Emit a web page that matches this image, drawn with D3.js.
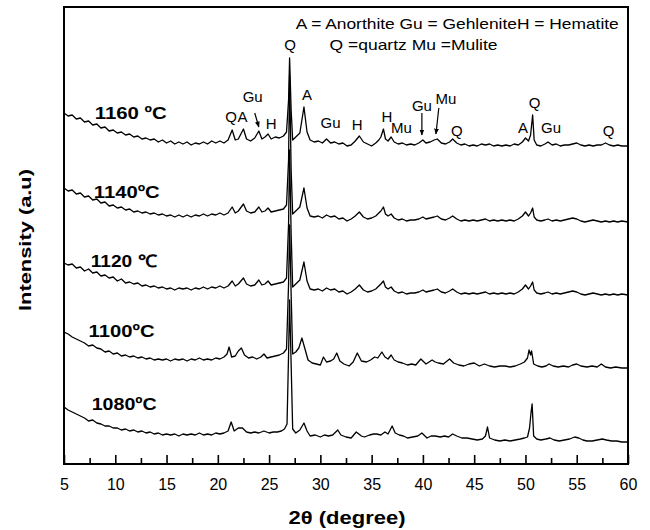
<!DOCTYPE html>
<html lang="en">
<head>
    <meta charset="UTF-8">
    <title>XRD patterns</title>
    <script src="https://d3js.org/d3.v7.min.js"></script>
    <style>
        body { margin: 0; background: #fff; }
        svg { display: block; font-family: "Liberation Sans", Arial, sans-serif; }
        .tick text { font-size: 16px; fill: #000; }
        .peak { font-size: 15px; fill: #000; }
        .sample { font-size: 17px; font-weight: bold; fill: #000; }
    </style>
</head>
<body>
<svg id="chart" width="650" height="530"></svg>
<script>
    // 2θ / intensity pairs (curves already offset for stacking)
    const curve1160 = [[5.0,351],[5.4,348],[5.8,349],[6.2,345],[6.6,346],[7.0,342],[7.4,343],[7.8,339],[8.2,340],[8.6,336],[9.0,337],[9.4,333],[9.8,334],[10.2,331],[10.6,332],[11.0,329],[11.4,330],[11.8,327],[12.2,328],[12.6,325],[13.0,326],[13.4,324],[13.8,325],[14.2,322],[14.6,324],[15.0,321],[15.4,323],[15.8,320],[16.2,322],[16.6,320],[17.0,322],[17.4,319],[17.8,321],[18.2,320],[18.6,322],[19.0,320],[19.4,323],[19.8,321],[20.2,323],[20.6,321],[21.0,324],[21.4,334],[21.7,324],[22.0,325],[22.5,335],[22.8,325],[23.2,323],[23.6,326],[24.0,333],[24.3,325],[24.6,327],[24.9,330],[25.2,325],[25.6,327],[26.0,326],[26.4,328],[26.7,332],[26.9,364],[27.0,406],[27.15,354],[27.3,324],[27.6,327],[28.0,331],[28.4,357],[28.7,332],[29.0,324],[29.4,322],[29.8,323],[30.2,321],[30.6,325],[31.0,321],[31.4,322],[31.8,320],[32.2,321],[32.6,318],[33.0,319],[33.4,323],[33.8,328],[34.2,322],[34.6,320],[35.0,318],[35.4,321],[35.7,324],[35.9,327],[36.15,335],[36.35,325],[36.6,323],[36.9,327],[37.2,322],[37.6,320],[38.0,321],[38.4,319],[38.8,320],[39.2,319],[39.6,321],[40.0,324],[40.3,321],[40.7,322],[41.1,324],[41.4,325],[41.8,321],[42.2,320],[42.6,322],[42.9,325],[43.3,321],[43.7,319],[44.1,320],[44.5,318],[44.9,319],[45.3,318],[45.7,320],[46.1,319],[46.5,320],[46.9,318],[47.3,319],[47.7,318],[48.1,319],[48.5,318],[48.9,320],[49.3,319],[49.7,322],[50.0,326],[50.3,323],[50.5,329],[50.7,349],[50.85,324],[51.1,319],[51.5,318],[51.9,320],[52.2,322],[52.6,319],[53.0,320],[53.4,318],[53.8,319],[54.2,319],[54.6,320],[55.0,321],[55.4,319],[55.8,318],[56.2,319],[56.6,318],[57.0,319],[57.4,319],[57.8,321],[58.2,319],[58.6,318],[59.0,319],[59.4,318],[60.0,318]];

    const curve1140 = [[5.0,276],[5.4,273],[5.8,274],[6.2,270],[6.6,271],[7.0,267],[7.4,268],[7.8,264],[8.2,265],[8.6,261],[9.0,262],[9.4,258],[9.8,259],[10.2,256],[10.6,257],[11.0,254],[11.4,255],[11.8,252],[12.2,253],[12.6,251],[13.0,252],[13.4,250],[13.8,251],[14.2,249],[14.6,250],[15.0,248],[15.4,249],[15.8,247],[16.2,249],[16.6,247],[17.0,249],[17.4,247],[17.8,249],[18.2,248],[18.6,250],[19.0,248],[19.4,250],[19.8,249],[20.2,251],[20.6,249],[21.0,251],[21.4,257],[21.7,251],[22.0,253],[22.5,260],[22.8,253],[23.2,251],[23.6,252],[24.0,257],[24.3,252],[24.6,253],[24.9,256],[25.2,252],[25.6,253],[26.0,254],[26.4,255],[26.7,259],[26.9,304],[27.0,389],[27.15,294],[27.3,250],[27.6,253],[28.0,257],[28.4,276],[28.7,256],[29.0,248],[29.4,247],[29.8,248],[30.2,246],[30.6,249],[31.0,247],[31.4,248],[31.8,245],[32.2,246],[32.6,243],[33.0,245],[33.4,248],[33.8,252],[34.2,247],[34.6,245],[35.0,246],[35.4,248],[35.7,251],[35.9,253],[36.15,257],[36.35,250],[36.6,248],[36.9,250],[37.2,246],[37.6,244],[38.0,245],[38.4,243],[38.8,244],[39.2,244],[39.6,245],[40.0,247],[40.3,245],[40.7,246],[41.1,247],[41.4,248],[41.8,245],[42.2,244],[42.6,246],[42.9,248],[43.3,245],[43.7,243],[44.1,244],[44.5,243],[44.9,244],[45.3,243],[45.7,244],[46.1,245],[46.5,243],[46.9,244],[47.3,243],[47.7,244],[48.1,243],[48.5,244],[48.9,243],[49.3,245],[49.7,248],[50.0,252],[50.3,248],[50.5,251],[50.7,256],[50.85,247],[51.1,244],[51.5,243],[51.9,244],[52.2,245],[52.6,243],[53.0,244],[53.4,243],[53.8,244],[54.2,245],[54.6,246],[55.0,245],[55.4,243],[55.8,242],[56.2,243],[56.6,244],[57.0,243],[57.4,242],[57.8,243],[58.2,242],[58.6,243],[59.0,242],[59.4,243],[60.0,242]];

    const curve1120 = [[5.0,201],[5.4,199],[5.8,200],[6.2,196],[6.6,197],[7.0,193],[7.4,195],[7.8,191],[8.2,192],[8.6,188],[9.0,189],[9.4,186],[9.8,187],[10.2,183],[10.6,185],[11.0,181],[11.4,182],[11.8,180],[12.2,181],[12.6,178],[13.0,179],[13.4,177],[13.8,178],[14.2,176],[14.6,177],[15.0,175],[15.4,176],[15.8,174],[16.2,176],[16.6,175],[17.0,176],[17.4,174],[17.8,176],[18.2,175],[18.6,177],[19.0,175],[19.4,177],[19.8,176],[20.2,178],[20.6,176],[21.0,178],[21.4,183],[21.7,178],[22.0,180],[22.5,186],[22.8,180],[23.2,178],[23.6,179],[24.0,184],[24.3,179],[24.6,180],[24.9,183],[25.2,179],[25.6,180],[26.0,181],[26.4,182],[26.7,186],[26.9,240],[27.0,314],[27.15,230],[27.3,177],[27.6,180],[28.0,184],[28.4,202],[28.7,183],[29.0,175],[29.4,174],[29.8,175],[30.2,173],[30.6,176],[31.0,174],[31.4,175],[31.8,172],[32.2,173],[32.6,170],[33.0,172],[33.4,175],[33.8,179],[34.2,174],[34.6,172],[35.0,173],[35.4,175],[35.7,178],[35.9,180],[36.15,183],[36.35,177],[36.6,175],[36.9,177],[37.2,173],[37.6,171],[38.0,172],[38.4,170],[38.8,171],[39.2,171],[39.6,172],[40.0,174],[40.3,172],[40.7,173],[41.1,174],[41.4,175],[41.8,172],[42.2,171],[42.6,173],[42.9,175],[43.3,172],[43.7,170],[44.1,171],[44.5,170],[44.9,171],[45.3,170],[45.7,171],[46.1,172],[46.5,170],[46.9,171],[47.3,170],[47.7,171],[48.1,170],[48.5,171],[48.9,170],[49.3,172],[49.7,175],[50.0,179],[50.3,175],[50.5,178],[50.7,182],[50.85,174],[51.1,171],[51.5,170],[51.9,171],[52.2,172],[52.6,170],[53.0,171],[53.4,170],[53.8,171],[54.2,172],[54.6,173],[55.0,172],[55.4,170],[55.8,169],[56.2,170],[56.6,171],[57.0,170],[57.4,169],[57.8,170],[58.2,169],[58.6,170],[59.0,169],[59.4,170],[60.0,169]];

    const curve1100 = [[5.0,132],[5.4,130],[5.8,127],[6.2,125],[6.6,123],[7.0,121],[7.4,118],[7.8,119],[8.2,116],[8.6,115],[9.0,112],[9.4,113],[9.8,110],[10.2,111],[10.6,108],[11.0,109],[11.4,107],[11.8,108],[12.2,106],[12.6,107],[13.0,105],[13.4,106],[13.8,104],[14.2,105],[14.6,104],[15.0,105],[15.4,103],[15.8,105],[16.2,104],[16.6,105],[17.0,103],[17.4,105],[17.8,104],[18.2,106],[18.6,104],[19.0,105],[19.4,104],[19.8,106],[20.2,105],[20.6,107],[20.9,110],[21.1,117],[21.35,107],[21.7,108],[22.0,113],[22.3,116],[22.6,109],[23.0,106],[23.4,107],[23.8,105],[24.2,107],[24.5,110],[24.8,106],[25.2,107],[25.6,108],[26.0,109],[26.4,111],[26.7,115],[26.9,180],[27.0,239],[27.15,170],[27.3,110],[27.6,112],[27.9,116],[28.2,126],[28.5,115],[28.8,104],[29.2,101],[29.6,100],[30.0,99],[30.3,107],[30.6,102],[31.0,103],[31.3,105],[31.6,111],[31.9,103],[32.3,100],[32.8,98],[33.2,102],[33.6,111],[34.0,103],[34.5,102],[34.9,104],[35.3,107],[35.6,106],[36.0,112],[36.3,107],[36.6,105],[36.9,109],[37.2,104],[37.6,102],[38.0,101],[38.5,99],[38.9,100],[39.3,99],[39.8,105],[40.3,100],[40.9,104],[41.2,102],[41.5,101],[42.0,100],[42.6,105],[43.0,101],[43.5,99],[44.0,98],[44.5,100],[45.0,101],[45.5,98],[46.0,100],[46.5,98],[47.0,97],[47.5,98],[48.0,98],[48.5,97],[49.0,98],[49.5,100],[49.9,102],[50.2,106],[50.35,114],[50.5,109],[50.6,113],[50.8,100],[51.2,98],[51.6,97],[52.0,98],[52.3,100],[52.7,98],[53.2,97],[53.7,98],[54.2,97],[54.6,99],[55.0,100],[55.4,98],[56.0,97],[56.5,98],[57.0,97],[57.4,100],[57.8,97],[58.3,96],[58.8,97],[59.4,96],[60.0,96]];

    const curve1080 = [[5.0,57],[5.4,54],[5.8,52],[6.2,50],[6.6,48],[7.0,46],[7.4,43],[7.8,44],[8.2,41],[8.6,40],[9.0,38],[9.4,38],[9.8,36],[10.2,36],[10.6,34],[11.0,35],[11.4,33],[11.8,34],[12.2,32],[12.6,33],[13.0,31],[13.4,32],[13.8,30],[14.2,31],[14.6,29],[15.0,30],[15.4,29],[15.8,30],[16.2,28],[16.6,30],[17.0,29],[17.4,30],[17.8,29],[18.2,31],[18.6,29],[19.0,30],[19.4,29],[19.8,31],[20.2,30],[20.6,31],[21.0,33],[21.3,42],[21.6,33],[22.0,36],[22.4,36],[22.8,32],[23.2,31],[23.6,32],[24.0,31],[24.5,33],[25.0,31],[25.4,32],[25.8,32],[26.2,33],[26.5,35],[26.75,40],[26.9,110],[27.0,164],[27.15,100],[27.3,35],[27.6,31],[28.0,34],[28.4,41],[28.7,33],[29.0,28],[29.5,29],[30.0,27],[30.4,29],[30.8,28],[31.2,29],[31.7,34],[32.0,29],[32.5,27],[33.0,26],[33.5,32],[34.0,28],[34.3,27],[34.8,29],[35.2,30],[35.5,30],[35.9,29],[36.3,32],[36.6,30],[37.0,38],[37.3,31],[37.7,29],[38.1,28],[38.5,26],[39.0,27],[39.5,28],[39.9,31],[40.4,26],[40.8,28],[41.2,28],[41.7,27],[42.1,28],[42.5,27],[42.9,30],[43.3,28],[43.8,26],[44.3,26],[44.8,25],[45.3,24],[45.8,25],[46.1,28],[46.3,37],[46.5,26],[47.0,24],[47.5,23],[48.0,24],[48.5,23],[49.0,24],[49.5,25],[49.9,26],[50.2,27],[50.4,36],[50.55,52],[50.65,60],[50.8,28],[51.1,25],[51.5,24],[52.0,25],[52.4,26],[52.8,24],[53.3,23],[53.8,24],[54.3,25],[54.8,27],[55.2,26],[55.6,24],[56.0,23],[56.5,23],[57.0,24],[57.5,25],[57.9,24],[58.4,23],[58.9,23],[59.4,22],[60.0,22]];

    const curves = [curve1160, curve1140, curve1120, curve1100, curve1080];
    const sampleNames = ["1160 \u00baC", "1140\u00baC", "1120 \u2103", "1100\u00baC", "1080\u00baC"];
    const majorTicks = [5, 10, 15, 20, 25, 30, 35, 40, 45, 50, 55, 60];
    const minorTicks = [7.5, 12.5, 17.5, 22.5, 27.5, 32.5, 37.5, 42.5, 47.5, 52.5, 57.5];
    const legendLines = ["A = Anorthite Gu = GehleniteH = Hematite", "Q =quartz Mu =Mulite"];
    const peakNames = ["Q", "A", "Gu", "H", "Q", "A", "Gu", "H", "H", "Mu", "Gu", "Mu", "Q", "A", "Q", "Gu", "Q"];
    const peakAngles = [21.3, 22.4, 23.4, 25.2, 27.05, 28.7, 31.0, 33.6, 36.5, 37.9, 39.9, 42.25, 43.3, 49.75, 50.9, 52.5, 58.1];
    const peakHeights = [342, 342, 362, 335, 414, 364, 336, 334, 342, 331, 353, 360, 328, 331, 356, 331, 328];

    const width = 650, height = 530;
    const margin = { top: 7, right: 22, bottom: 66, left: 64 };
    const plotW = width - margin.left - margin.right;
    const plotH = height - margin.top - margin.bottom;

    const svg = d3.select("#chart");
    const x = d3.scaleLinear().domain([5, 60]).range([0, plotW]);
    const y = d3.scaleLinear().domain([0, plotH]).range([plotH, 0]);

    const g = svg.append("g").attr("transform", `translate(${margin.left},${margin.top})`);

    g.append("clipPath").attr("id", "clip")
        .append("rect").attr("width", plotW).attr("height", plotH);

    const line = d3.line().x(d => x(d[0])).y(d => y(d[1]));

    g.append("g").attr("clip-path", "url(#clip)")
        .selectAll("path")
        .data(curves)
        .join("path")
        .attr("fill", "none")
        .attr("stroke", "#000")
        .attr("stroke-width", 1.3)
        .attr("stroke-linejoin", "round")
        .attr("d", line);

    // bottom axis, ticks pointing inward
    const axisMajor = g.append("g")
        .attr("transform", `translate(0,${plotH})`)
        .call(d3.axisBottom(x).tickValues(majorTicks).tickSize(-9).tickPadding(15).tickFormat(d3.format("d")));
    axisMajor.select(".domain").remove();
    axisMajor.selectAll(".tick line").attr("stroke", "#000").attr("stroke-width", 1.6);
    axisMajor.selectAll(".tick text").attr("font-family", "Liberation Sans, Arial, sans-serif").attr("font-size", 16);

    const axisMinor = g.append("g")
        .attr("transform", `translate(0,${plotH})`)
        .call(d3.axisBottom(x).tickValues(minorTicks).tickSize(-6).tickFormat(""));
    axisMinor.select(".domain").remove();
    axisMinor.selectAll(".tick line").attr("stroke", "#000").attr("stroke-width", 1.6);

    // frame
    g.append("rect")
        .attr("width", plotW).attr("height", plotH)
        .attr("fill", "none").attr("stroke", "#000").attr("stroke-width", 2);

    // legend text
    g.selectAll(".legend")
        .data(legendLines)
        .join("text")
        .attr("class", "peak")
        .attr("x", (d, i) => i === 0 ? x(27.6) : x(30.9))
        .attr("y", (d, i) => i === 0 ? y(435) : y(414))
        .attr("font-size", 14)
        .attr("textLength", (d, i) => i === 0 ? 323 : 168)
        .attr("lengthAdjust", "spacingAndGlyphs")
        .text(d => d);

    // peak labels
    g.selectAll(".peak-label")
        .data(peakNames)
        .join("text")
        .attr("class", "peak")
        .attr("text-anchor", "middle")
        .attr("x", (d, i) => x(peakAngles[i]))
        .attr("y", (d, i) => y(peakHeights[i]))
        .text(d => d);

    // arrows for Gu, Gu and Mu
    const arrows = [[[23.6, 351], [24.0, 337]], [[39.9, 351], [39.9, 329]], [[41.55, 356], [41.27, 330]]];
    svg.append("defs").append("marker")
        .attr("id", "head").attr("viewBox", "0 0 10 10")
        .attr("refX", 9).attr("refY", 5)
        .attr("markerWidth", 5).attr("markerHeight", 5)
        .attr("orient", "auto")
        .append("path").attr("d", "M0,1 L10,5 L0,9 Z").attr("fill", "#000");
    g.selectAll(".arrow")
        .data(arrows)
        .join("line")
        .attr("x1", d => x(d[0][0])).attr("y1", d => y(d[0][1]))
        .attr("x2", d => x(d[1][0])).attr("y2", d => y(d[1][1]))
        .attr("stroke", "#000").attr("stroke-width", 1.2)
        .attr("marker-end", "url(#head)");

    // sample temperature labels
    const sampleAnchors = [[8.0, 345], [7.9, 266], [7.6, 197], [7.4, 127], [7.7, 54]];
    const sampleLengths = [72, 66, 66, 66, 65];
    g.selectAll(".sample")
        .data(sampleNames)
        .join("text")
        .attr("class", "sample")
        .attr("x", (d, i) => x(sampleAnchors[i][0]))
        .attr("y", (d, i) => y(sampleAnchors[i][1]))
        .attr("textLength", (d, i) => sampleLengths[i])
        .attr("lengthAdjust", "spacingAndGlyphs")
        .text(d => d);

    // axis titles
    svg.append("text")
        .attr("x", margin.left + x(32.6)).attr("y", 524)
        .attr("text-anchor", "middle")
        .attr("font-size", 18).attr("font-weight", "bold")
        .attr("textLength", 117).attr("lengthAdjust", "spacingAndGlyphs")
        .text("2\u03b8 (degree)");

    svg.append("text")
        .attr("transform", `translate(31,${margin.top + y(224)}) rotate(-90)`)
        .attr("text-anchor", "middle")
        .attr("font-size", 17).attr("font-weight", "bold")
        .attr("textLength", 142).attr("lengthAdjust", "spacingAndGlyphs")
        .text("Intensity (a.u)");
</script>
</body>
</html>
